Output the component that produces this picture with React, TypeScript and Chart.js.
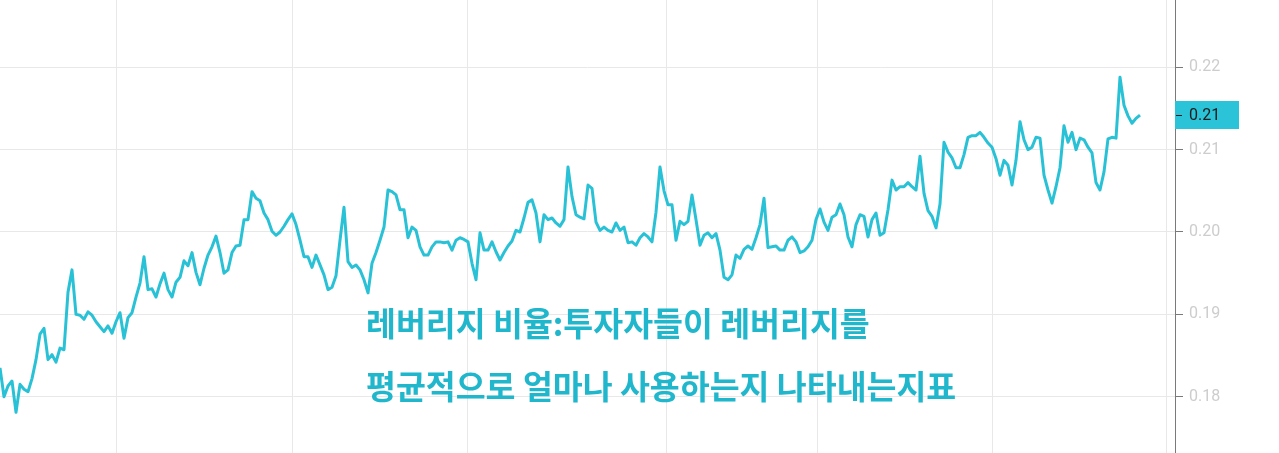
import React, { useEffect, useRef } from 'react';
import { Chart, registerables } from 'chart.js';

Chart.register(...registerables);

// Leverage ratio series (evenly spaced observations)
const leverageRatio: number[] = [
  0.1835, 0.1800, 0.1813, 0.1819, 0.1781, 0.1815, 0.1809, 0.1806, 0.1822, 0.1845,
  0.1876, 0.1883, 0.1845, 0.1851, 0.1842, 0.1859, 0.1857, 0.1927, 0.1954, 0.1900,
  0.1899, 0.1894, 0.1903, 0.1899, 0.1891, 0.1885, 0.1879, 0.1886, 0.1877, 0.1891,
  0.1902, 0.1871, 0.1896, 0.1902, 0.1921, 0.1938, 0.1970, 0.1930, 0.1931, 0.1921,
  0.1937, 0.1950, 0.1930, 0.1921, 0.1939, 0.1945, 0.1965, 0.1959, 0.1975, 0.1951,
  0.1936, 0.1956, 0.1972, 0.1982, 0.1995, 0.1975, 0.1950, 0.1954, 0.1975, 0.1983,
  0.1984, 0.2015, 0.2015, 0.2049, 0.2041, 0.2038, 0.2023, 0.2015, 0.2001, 0.1996,
  0.2000, 0.2007, 0.2015, 0.2022, 0.2009, 0.1990, 0.1970, 0.1970, 0.1957, 0.1972,
  0.1960, 0.1948, 0.1930, 0.1933, 0.1947, 0.1990, 0.2030, 0.1964, 0.1957, 0.1960,
  0.1954, 0.1942, 0.1926, 0.1962, 0.1975, 0.1990, 0.2006, 0.2051, 0.2049, 0.2045,
  0.2027, 0.2027, 0.1993, 0.2006, 0.2002, 0.1982, 0.1972, 0.1972, 0.1982, 0.1988,
  0.1988, 0.1987, 0.1988, 0.1978, 0.1990, 0.1993, 0.1991, 0.1988, 0.1962, 0.1942,
  0.1999, 0.1978, 0.1978, 0.1988, 0.1976, 0.1966, 0.1975, 0.1983, 0.1989, 0.2002,
  0.2000, 0.2017, 0.2036, 0.2039, 0.2023, 0.1988, 0.2021, 0.2015, 0.2017, 0.2011,
  0.2007, 0.2015, 0.2079, 0.2043, 0.2021, 0.2018, 0.2016, 0.2057, 0.2053, 0.2012,
  0.2002, 0.2006, 0.2002, 0.2000, 0.2011, 0.2002, 0.2006, 0.1987, 0.1988, 0.1984,
  0.1993, 0.1998, 0.1994, 0.1988, 0.2024, 0.2079, 0.2050, 0.2033, 0.2033, 0.1990,
  0.2013, 0.2009, 0.2013, 0.2045, 0.2015, 0.1984, 0.1996, 0.1999, 0.1993, 0.1998,
  0.1978, 0.1945, 0.1942, 0.1948, 0.1972, 0.1968, 0.1979, 0.1983, 0.1979, 0.1993,
  0.2009, 0.2041, 0.1981, 0.1982, 0.1983, 0.1978, 0.1978, 0.1990, 0.1994, 0.1988,
  0.1975, 0.1977, 0.1982, 0.1990, 0.2015, 0.2028, 0.2012, 0.2002, 0.2018, 0.2021,
  0.2034, 0.2021, 0.1994, 0.1982, 0.2009, 0.2021, 0.2019, 0.1994, 0.2015, 0.2023,
  0.1996, 0.1999, 0.2027, 0.2063, 0.2051, 0.2055, 0.2055, 0.2060, 0.2055, 0.2051,
  0.2092, 0.2047, 0.2026, 0.2019, 0.2005, 0.2034, 0.2109, 0.2097, 0.2090, 0.2078,
  0.2078, 0.2094, 0.2115, 0.2117, 0.2117, 0.2121, 0.2115, 0.2108, 0.2103, 0.2089,
  0.2069, 0.2087, 0.2081, 0.2057, 0.2087, 0.2134, 0.2112, 0.2100, 0.2103, 0.2115,
  0.2114, 0.2069, 0.2051, 0.2035, 0.2055, 0.2078, 0.2129, 0.2109, 0.2121, 0.2100,
  0.2114, 0.2112, 0.2103, 0.2096, 0.2060, 0.2051, 0.2073, 0.2113, 0.2115, 0.2114,
  0.2188, 0.2154, 0.2141, 0.2132, 0.2138, 0.2142,
];

const yTickValues: number[] = [0.18, 0.19, 0.2, 0.21, 0.22];
const xGridTicks: number[] = [29.2, 73, 116.75, 166.65, 204.25, 248, 291.5];
const captionLines: string[] = [
  '레버리지 비율:투자자들이 레버리지를',
  '평균적으로 얼마나 사용하는지 나타내는지표',
];

const LINE_COLOR = '#29c1d5';
const TEXT_COLOR = '#20b7cc';
const BOX_COLOR = '#2ac3d8';
const GRID_COLOR = '#e8e8e8';
const AXIS_COLOR = '#7a7a7a';

export default function App() {
  const canvasRef = useRef<HTMLCanvasElement | null>(null);

  useEffect(() => {
    const canvas = canvasRef.current;
    if (!canvas) return;

    const lastValuePlugin = {
      id: 'lastValueBox',
      afterDraw(chart: any) {
        const yScale = chart.scales.y;
        const v = leverageRatio[leverageRatio.length - 1];
        const py = Math.round(yScale.getPixelForValue(v));
        const ctx = chart.ctx as CanvasRenderingContext2D;
        ctx.save();
        ctx.fillStyle = BOX_COLOR;
        ctx.fillRect(yScale.left, py - 14, 64, 28);
        ctx.strokeStyle = '#1e1e1e';
        ctx.lineWidth = 1;
        ctx.beginPath();
        ctx.moveTo(yScale.left + 1, py + 0.5);
        ctx.lineTo(yScale.left + 7, py + 0.5);
        ctx.stroke();
        ctx.fillStyle = '#1b1b1b';
        ctx.font = '16px Roboto';
        ctx.textAlign = 'left';
        ctx.textBaseline = 'middle';
        ctx.fillText(v.toFixed(2), yScale.left + 14, py + 1);
        ctx.restore();
      },
    };

    const chart = new Chart(canvas, {
      type: 'line',
      data: {
        datasets: [
          {
            data: leverageRatio.map((v, i) => ({ x: i, y: v })),
            borderColor: LINE_COLOR,
            borderWidth: 3,
            pointRadius: 0,
            tension: 0,
            fill: false,
            borderJoinStyle: 'round',
          },
        ],
      },
      options: {
        animation: false,
        responsive: false,
        layout: { padding: 0 },
        plugins: {
          legend: { display: false },
          tooltip: { enabled: false },
        },
        scales: {
          x: {
            type: 'linear',
            min: 0,
            max: 293.75,
            afterBuildTicks: (s: any) => {
              s.ticks = xGridTicks.map((value) => ({ value }));
            },
            afterFit: (s: any) => {
              s.height = 0;
              s.paddingLeft = 0;
              s.paddingRight = 0;
            },
            ticks: { display: false },
            grid: { color: GRID_COLOR, drawTicks: false, lineWidth: 1 },
            border: { display: false },
          },
          y: {
            type: 'linear',
            position: 'right',
            min: 0.173163,
            max: 0.228172,
            afterBuildTicks: (s: any) => {
              s.ticks = yTickValues.map((value) => ({ value }));
            },
            afterFit: (s: any) => {
              s.width = 104;
              s.paddingTop = 0;
              s.paddingBottom = 0;
            },
            ticks: {
              color: '#cdcdcd',
              font: { family: 'Roboto', size: 16 },
              padding: 6,
              callback: (v: any) => Number(v).toFixed(2),
            },
            grid: {
              color: GRID_COLOR,
              tickColor: AXIS_COLOR,
              tickLength: 8,
              drawTicks: true,
            },
            border: { color: AXIS_COLOR, width: 1 },
          },
        },
      },
      plugins: [lastValuePlugin],
    } as any);

    return () => {
      chart.destroy();
    };
  }, []);

  return (
    <div
      style={{
        position: 'fixed',
        left: 0,
        top: 0,
        width: 1279,
        height: 453,
        background: '#ffffff',
        overflow: 'hidden',
      }}
    >
      <canvas ref={canvasRef} width={1279} height={453} style={{ display: 'block' }} />
      {captionLines.map((line, i) => (
        <div
          key={i}
          style={{
            position: 'absolute',
            left: 366,
            top: i === 0 ? 305 : 368,
            fontFamily: '"Noto Sans CJK KR", "Noto Sans", sans-serif',
            fontWeight: 700,
            fontSize: 32.5,
            lineHeight: '34px',
            color: TEXT_COLOR,
            whiteSpace: 'nowrap',
          }}
        >
          {line}
        </div>
      ))}
    </div>
  );
}
